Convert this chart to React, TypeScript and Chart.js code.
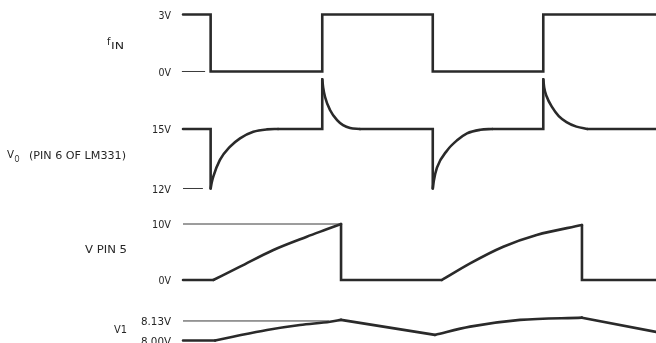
import React, { useEffect, useRef } from "react";
import { Chart, registerables } from "chart.js";

Chart.register(...registerables);

// ---- time axis (arbitrary units) ----
const timeMin = -8.28;
const timeMax = 21.4;

// ---- f_IN square wave ----
const fInT = [0, 1.25, 1.25, 6.3, 6.3, 11.3, 11.3, 16.3, 16.3, 21.4];
const fInV = [3, 3, 0, 0, 3, 3, 0, 0, 3, 3];
const fInTickT = [-0.05, 1.0];
const fInTickV = [0, 0];
const fInLevels = [3, 0];
const fInLevelLabels = ["3V", "0V"];

// ---- V0 (pin 6 of LM331): flats & edges (null = break) ----
const v0T = [0, 1.25, 1.25, 1.25, 4.3, 6.3, 6.3, 6.3, 8.0, 11.3, 11.3, 11.3, 14.0, 16.3, 16.3, 16.3, 18.3, 21.4];
const v0V = [15, 15, 12, null, 15, 15, 17.5, null, 15, 15, 12, null, 15, 15, 17.5, null, 15, 15];
// recovery after falling edge
const v0Rec1T = [1.25, 1.3, 1.37, 1.67, 2.13, 2.58, 3.18, 3.79, 4.3];
const v0Rec1V = [12.0, 12.3, 12.6, 13.44, 14.11, 14.53, 14.86, 14.98, 15.0];
const v0Rec2T = [11.3, 11.35, 11.49, 11.95, 12.4, 12.85, 13.45, 14.0];
const v0Rec2V = [12.0, 12.4, 13.05, 13.92, 14.43, 14.78, 14.96, 15.0];
// decay after rising-edge spike
const v0Dec1T = [6.3, 6.34, 6.43, 6.65, 6.97, 7.24, 7.56, 8.0];
const v0Dec1V = [17.5, 17.1, 16.6, 15.96, 15.45, 15.2, 15.05, 15.0];
const v0Dec2T = [16.3, 16.34, 16.45, 16.7, 17.0, 17.35, 17.8, 18.3];
const v0Dec2V = [17.5, 17.1, 16.65, 16.1, 15.65, 15.35, 15.12, 15.0];
const v0TickT = [0, 0.9];
const v0TickV = [12, 12];
const v0Levels = [15, 12];
const v0LevelLabels = ["15V", "12V"];

// ---- V pin 5: flats & edges, plus ramps ----
const p5T = [0, 1.37, 1.37, 7.15, 7.15, 11.71, 11.71, 18.05, 18.05, 21.4];
const p5V = [0, 0, null, 10.0, 0, 0, null, 9.82, 0, 0];
const p5Ramp1T = [1.37, 2.58, 4.09, 5.6, 6.5, 7.15];
const p5Ramp1V = [0, 2.38, 5.36, 7.73, 9.05, 10.0];
const p5Ramp2T = [11.71, 12.99, 14.49, 16.0, 18.05];
const p5Ramp2V = [0, 2.98, 5.95, 8.04, 9.82];
const p5RefT = [0, 7.1];
const p5RefV = [10, 10];
const p5Levels = [10, 0];
const p5LevelLabels = ["10V", "0V"];

// ---- V1 ----
const v1T = [0, 1.45, 1.45, 7.15, 11.4, 11.4, 18.05, 21.4];
const v1V = [8.0, 8.0, null, 8.137, 8.037, null, 8.152, 8.057];
const v1Rise1T = [1.45, 2.26, 3.8, 5.29, 6.65, 7.15];
const v1Rise1V = [8.0, 8.025, 8.07, 8.103, 8.125, 8.137];
const v1Rise2T = [11.4, 12.99, 15.25, 18.05];
const v1Rise2V = [8.037, 8.092, 8.137, 8.152];
const v1RefT = [0, 6.6];
const v1RefV = [8.13, 8.13];
const v1Levels = [8.13, 8.0];
const v1LevelLabels = ["8.13V", "8.00V"];

const INK = "#2a2a2a";
const REF = "#3a3a3a";
const TEXT = "#262626";
const FONT = '"DejaVu Sans Condensed", "DejaVu Sans", sans-serif';

const pts = (t: number[], v: (number | null)[]) => t.map((x, i) => ({ x, y: v[i] }));

function trace(t: number[], v: (number | null)[], axis: string, opts: any = {}) {
  return {
    data: pts(t, v),
    yAxisID: axis,
    borderColor: INK,
    borderWidth: 2.6,
    pointRadius: 0,
    tension: 0,
    spanGaps: false,
    borderCapStyle: "round",
    borderJoinStyle: "miter",
    fill: false,
    ...opts,
  };
}
const curve = { cubicInterpolationMode: "monotone" };
const thin = { borderColor: REF, borderWidth: 1, borderCapStyle: "butt" };

function fitText(ctx: CanvasRenderingContext2D, text: string, left: number, right: number, y: number, size: number) {
  ctx.font = `${size}px ${FONT}`;
  const w = ctx.measureText(text).width;
  const target = right - left;
  ctx.save();
  ctx.translate(left, y);
  ctx.scale(target / w, 1);
  ctx.textAlign = "left";
  ctx.fillText(text, 0, 0);
  ctx.restore();
}

const labelPlugin = {
  id: "timingLabels",
  afterDraw(chart: any) {
    const ctx: CanvasRenderingContext2D = chart.ctx;
    ctx.save();
    ctx.fillStyle = TEXT;
    ctx.textBaseline = "middle";
    const groups: [string, number[], string[]][] = [
      ["yF", fInLevels, fInLevelLabels],
      ["yV0", v0Levels, v0LevelLabels],
      ["yP", p5Levels, p5LevelLabels],
      ["yV1", v1Levels, v1LevelLabels],
    ];
    for (const [axis, vals, labs] of groups) {
      const sc = chart.scales[axis];
      vals.forEach((v, i) => {
        const y = sc.getPixelForValue(v) + 1.5;
        const lab = labs[i];
        const w = lab.length === 2 ? 12.5 : lab.length === 3 ? 19 : 30;
        fitText(ctx, lab, 171 - w, 171, y, 10.5);
      });
    }
    // row names
    fitText(ctx, "f", 107, 110.5, 42.5, 10);
    fitText(ctx, "IN", 111, 124, 47, 9);
    fitText(ctx, "V", 7, 14, 155.5, 10.5);
    fitText(ctx, "O", 14.5, 19.5, 159.5, 9);
    fitText(ctx, "(PIN 6 OF LM331)", 29, 126, 156.5, 10.5);
    fitText(ctx, "V PIN 5", 85, 127, 250.5, 10.5);
    fitText(ctx, "V1", 114, 127, 330.5, 10.5);
    ctx.restore();
  },
};

export default function App() {
  const ref = useRef<HTMLCanvasElement | null>(null);
  useEffect(() => {
    if (!ref.current) return;
    const chart = new Chart(ref.current, {
      type: "line",
      data: {
        datasets: [
          trace(fInT, fInV, "yF"),
          trace(fInTickT, fInTickV, "yF", thin),
          trace(v0T, v0V, "yV0"),
          trace(v0Rec1T, v0Rec1V, "yV0", curve),
          trace(v0Rec2T, v0Rec2V, "yV0", curve),
          trace(v0Dec1T, v0Dec1V, "yV0", curve),
          trace(v0Dec2T, v0Dec2V, "yV0", curve),
          trace(v0TickT, v0TickV, "yV0", thin),
          trace(p5RefT, p5RefV, "yP", thin),
          trace(p5T, p5V, "yP"),
          trace(p5Ramp1T, p5Ramp1V, "yP", curve),
          trace(p5Ramp2T, p5Ramp2V, "yP", curve),
          trace(v1RefT, v1RefV, "yV1", thin),
          trace(v1T, v1V, "yV1"),
          trace(v1Rise1T, v1Rise1V, "yV1", curve),
          trace(v1Rise2T, v1Rise2V, "yV1", curve),
        ] as any,
      },
      options: {
        animation: false,
        responsive: false,
        maintainAspectRatio: false,
        devicePixelRatio: 1,
        layout: { padding: 0 },
        plugins: { legend: { display: false }, tooltip: { enabled: false }, title: { display: false } },
        events: [],
        scales: {
          x: { type: "linear", min: timeMin, max: timeMax, display: false },
          yF: { type: "linear", min: -14.29, max: 3.763, display: false },
          yV0: { type: "linear", min: 4.21, max: 21.504, display: false },
          yP: { type: "linear", min: -11.25, max: 50, display: false },
          yV1: { type: "linear", min: 7.983, max: 10.27, display: false },
        },
      } as any,
      plugins: [labelPlugin],
    });
    return () => chart.destroy();
  }, []);
  return (
    <div style={{ position: "fixed", left: 0, top: 0, width: 656, height: 343, background: "#ffffff" }}>
      <canvas ref={ref} width={656} height={343} style={{ display: "block", width: 656, height: 343 }} />
    </div>
  );
}
